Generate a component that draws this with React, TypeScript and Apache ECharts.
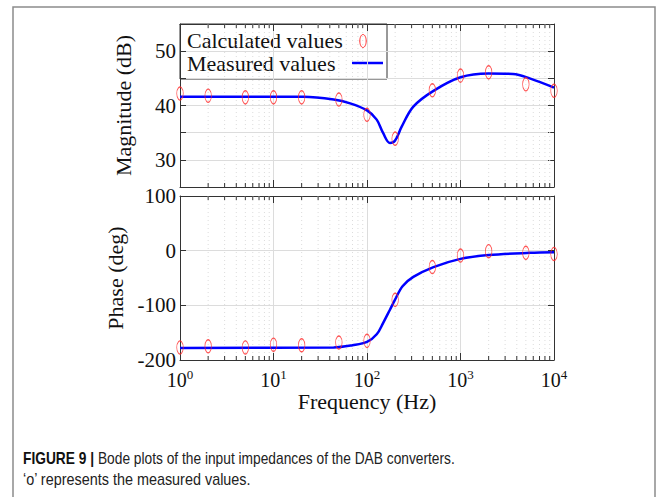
import React, { useEffect, useRef } from "react";
import * as echarts from "echarts";

// Calculated values (red ellipses)
const freqPoints = [1, 2, 5, 10, 20, 50, 100, 200, 500, 1000, 2000, 5000, 10000];
const magCalculated = [42.2, 41.8, 41.5, 41.5, 41.5, 41.1, 38.3, 33.9, 42.8, 45.5, 46.1, 43.9, 42.7];
const phaseCalculated = [-177, -175, -177, -172, -173, -168, -165, -90, -30, -9, -1, -4, -6];

// Measured values (blue line)
const freqMag = [1, 10, 21, 44, 66, 100, 127, 149, 176, 199, 235, 313, 514, 1000, 1990, 3650, 5500, 10000];
const magMeasured = [41.6, 41.6, 41.6, 41.1, 40.4, 39.1, 37.4, 34.9, 33.1, 33.5, 36.1, 39.8, 42.7, 45.2, 45.9, 45.8, 45.0, 43.3];
const freqPhase = [1, 44, 70, 100, 127, 149, 176, 199, 240, 313, 514, 1000, 2000, 5500, 10000];
const phaseMeasured = [-178, -177, -173, -167, -153, -132, -108, -90, -65, -48, -30, -15, -8, -4, -3];

// Minor log ticks
const minorFreqs = [
  2, 3, 4, 5, 6, 7, 8, 9,
  20, 30, 40, 50, 60, 70, 80, 90,
  200, 300, 400, 500, 600, 700, 800, 900,
  2000, 3000, 4000, 5000, 6000, 7000, 8000, 9000,
];

const legendLabels = ["Calculated values", "Measured values"];

const SERIF = '"Liberation Serif", "Times New Roman", serif';
const SANS = '"Liberation Sans", Arial, sans-serif';
const AXIS = "#333";
const GRID = "#dcdcdc";
const BLUE = "#0000ff";
const RED = "#ff2a2a";

function minorRender(params: any, api: any) {
  const f = api.value(0);
  const x = api.coord([f, api.value(1)])[0];
  const cs = params.coordSys;
  return {
    type: "group",
    silent: true,
    children: [
      {
        type: "line",
        shape: { x1: x, y1: cs.y, x2: x, y2: cs.y + cs.height },
        style: { stroke: GRID, lineWidth: 1, lineDash: [1, 3] },
      },
      {
        type: "line",
        shape: { x1: x, y1: cs.y + cs.height, x2: x, y2: cs.y + cs.height - 4 },
        style: { stroke: AXIS, lineWidth: 1 },
      },
      {
        type: "line",
        shape: { x1: x, y1: cs.y, x2: x, y2: cs.y + 4 },
        style: { stroke: AXIS, lineWidth: 1 },
      },
    ],
  };
}

function xAxisDef(gridIndex: number, position: string, showLabel: boolean, grid: boolean) {
  return {
    type: "log",
    logBase: 10,
    min: 1,
    max: 10000,
    gridIndex,
    position,
    axisLine: { show: true, onZero: false, lineStyle: { color: AXIS, width: 1 } },
    axisTick: { show: true, inside: true, length: 7, lineStyle: { color: AXIS } },
    splitLine: { show: grid, lineStyle: { color: GRID, width: 1 } },
    axisLabel: showLabel
      ? {
          show: true,
          margin: 8,
          formatter: (v: number) => `{b|10}{s|${Math.round(Math.log10(v))}}`,
          rich: {
            b: { fontFamily: SERIF, fontSize: 20, color: "#111" },
            s: { fontFamily: SERIF, fontSize: 13, color: "#111", padding: [0, 0, 10, 0] },
          },
        }
      : { show: false },
    ...(showLabel
      ? {
          name: "Frequency (Hz)",
          nameLocation: "middle",
          nameGap: 24,
          nameTextStyle: { fontFamily: SERIF, fontSize: 22, color: "#111" },
        }
      : {}),
  };
}

function yAxisDef(
  gridIndex: number,
  position: string,
  min: number,
  max: number,
  interval: number,
  labelStep: number,
  name: string | null
) {
  const left = position === "left";
  return {
    type: "value",
    gridIndex,
    position,
    min,
    max,
    interval,
    axisLine: { show: true, onZero: false, lineStyle: { color: AXIS, width: 1 } },
    axisTick: { show: true, inside: true, length: 6, lineStyle: { color: AXIS } },
    splitLine: { show: left, lineStyle: { color: GRID, width: 1 } },
    axisLabel: left
      ? {
          show: true,
          margin: 4,
          fontFamily: SERIF,
          fontSize: 21,
          color: "#111",
          formatter: (v: number) => (v % labelStep === 0 ? String(v) : ""),
        }
      : { show: false },
    ...(name
      ? {
          name,
          nameLocation: "middle",
          nameRotate: 90,
          nameGap: 46,
          nameTextStyle: { fontFamily: SERIF, fontSize: 22, color: "#111" },
        }
      : {}),
  };
}

export default function App() {
  const ref = useRef<HTMLDivElement>(null);

  useEffect(() => {
    if (!ref.current) return;
    const chart = echarts.init(ref.current, undefined, { renderer: "svg" });

    const option: any = {
      animation: false,
      backgroundColor: "#fff",
      grid: [
        { left: 180, top: 24, width: 374, height: 163 },
        { left: 180, top: 196, width: 374, height: 164 },
      ],
      xAxis: [
        xAxisDef(0, "bottom", false, true),
        xAxisDef(0, "top", false, false),
        xAxisDef(1, "bottom", true, true),
        xAxisDef(1, "top", false, false),
      ],
      yAxis: [
        yAxisDef(0, "left", 25, 55, 5, 10, "Magnitude (dB)"),
        yAxisDef(0, "right", 25, 55, 5, 10, null),
        yAxisDef(1, "left", -200, 100, 100, 100, "Phase (deg)"),
        yAxisDef(1, "right", -200, 100, 100, 100, null),
      ],
      series: [
        {
          type: "custom",
          xAxisIndex: 0,
          yAxisIndex: 0,
          silent: true,
          z: 1,
          renderItem: minorRender,
          data: minorFreqs.map((f) => [f, 40]),
        },
        {
          type: "custom",
          xAxisIndex: 2,
          yAxisIndex: 2,
          silent: true,
          z: 1,
          renderItem: minorRender,
          data: minorFreqs.map((f) => [f, 0]),
        },
        {
          name: "Measured values",
          type: "line",
          xAxisIndex: 0,
          yAxisIndex: 0,
          smooth: 0.35,
          showSymbol: false,
          z: 3,
          lineStyle: { color: BLUE, width: 2.5 },
          data: freqMag.map((f, i) => [f, magMeasured[i]]),
        },
        {
          name: "Measured values",
          type: "line",
          xAxisIndex: 2,
          yAxisIndex: 2,
          smooth: 0.35,
          showSymbol: false,
          z: 3,
          lineStyle: { color: BLUE, width: 2.5 },
          data: freqPhase.map((f, i) => [f, phaseMeasured[i]]),
        },
        {
          name: "Calculated values",
          type: "scatter",
          xAxisIndex: 0,
          yAxisIndex: 0,
          clip: false,
          z: 4,
          symbol: "circle",
          symbolSize: [6.5, 13],
          itemStyle: { color: "rgba(0,0,0,0)", borderColor: RED, borderWidth: 1 },
          data: freqPoints.map((f, i) => [f, magCalculated[i]]),
        },
        {
          name: "Calculated values",
          type: "scatter",
          xAxisIndex: 2,
          yAxisIndex: 2,
          clip: false,
          z: 4,
          symbol: "circle",
          symbolSize: [6.5, 13],
          itemStyle: { color: "rgba(0,0,0,0)", borderColor: RED, borderWidth: 1 },
          data: freqPoints.map((f, i) => [f, phaseCalculated[i]]),
        },
      ],
      graphic: [
        {
          type: "polyline",
          z: 100,
          silent: true,
          shape: { points: [[13, 500], [13, 7], [655, 7], [655, 500]] },
          style: { stroke: "#8c8c8c", lineWidth: 1.5, fill: null },
        },
        {
          type: "group",
          z: 100,
          children: [
            {
              type: "rect",
              shape: { x: 180, y: 24, width: 207, height: 55 },
              style: { fill: "#fff", stroke: AXIS, lineWidth: 1 },
            },
            {
              type: "text",
              x: 187,
              y: 52,
              style: {
                text: legendLabels.join("\n"),
                fontFamily: SERIF,
                fontSize: 22,
                lineHeight: 22.6,
                fill: "#111",
                verticalAlign: "middle",
              },
            },
            {
              type: "ellipse",
              shape: { cx: 363, cy: 41, rx: 3.2, ry: 6.5 },
              style: { fill: null, stroke: RED, lineWidth: 1 },
            },
            {
              type: "line",
              shape: { x1: 352, y1: 63, x2: 383, y2: 63 },
              style: { stroke: BLUE, lineWidth: 2.5 },
            },
          ],
        },
        {
          type: "text",
          z: 100,
          x: 23,
          y: 458,
          scaleX: 0.86,
          style: {
            text: "{b|FIGURE 9 |} Bode plots of the input impedances of the DAB converters.",
            fontFamily: SANS,
            fontSize: 16,
            fill: "#222",
            verticalAlign: "middle",
            rich: {
              b: {
                fontFamily: SANS,
                fontSize: 16,
                fontWeight: "bold",
                fill: "#111",
              },
            },
          },
        },
        {
          type: "text",
          z: 100,
          x: 23,
          y: 479,
          scaleX: 0.9,
          style: {
            text: "\u2018o\u2019 represents the measured values.",
            fontFamily: SANS,
            fontSize: 16,
            fill: "#222",
            verticalAlign: "middle",
          },
        },
      ],
    };

    chart.setOption(option);
    return () => chart.dispose();
  }, []);

  return (
    <div
      ref={ref}
      style={{ position: "absolute", left: 0, top: 0, width: 663, height: 497, background: "#fff" }}
    />
  );
}
